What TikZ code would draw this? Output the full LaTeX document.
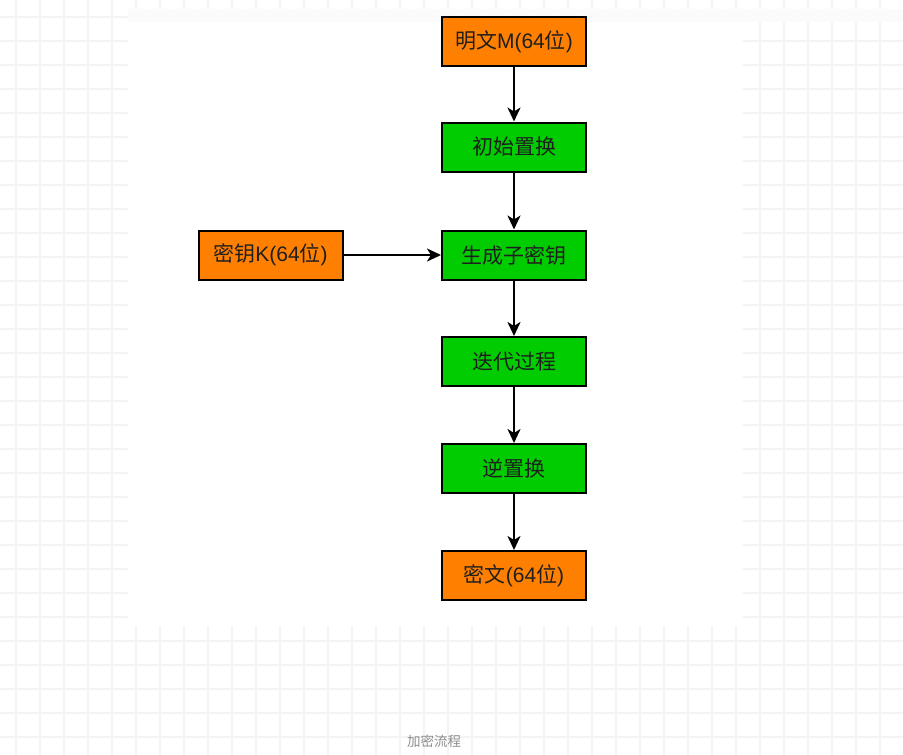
\documentclass[tikz,border=0pt]{standalone}
\usepackage{fontspec}
\setmainfont{Liberation Sans}
\newfontfamily\cjk{Noto Sans CJK SC}
\usetikzlibrary{arrows.meta}
\newcommand{\zh}[1]{{\cjk #1}}
\definecolor{zorange}{HTML}{FF8000}
\definecolor{zgreen}{HTML}{00CC00}
\definecolor{zgrid}{HTML}{F4F4F4}
\definecolor{zband}{HTML}{FBFBFB}
\definecolor{zfoot}{HTML}{8C8C8C}

\begin{document}
\begin{tikzpicture}[x=1pt, y=-1pt, zbox/.style={draw, line width=2pt, minimum width=144pt, minimum height=49pt, inner sep=0pt, font=\fontsize{21}{23}\selectfont, text=black!88}, zin/.style={zbox, fill=zorange}, zstep/.style={zbox, fill=zgreen}, zarr/.style={-{Stealth[length=14pt, width=13pt, inset=4pt]}, line width=2.2pt}]
\useasboundingbox (0,0) rectangle (903,755);
% fond quadrille
\foreach \x in {16,40,...,903}{\draw[zgrid, line width=1.5pt] (\x,0) -- (\x,755);}
\foreach \y in {17,41,...,755}{\draw[zgrid, line width=1.5pt] (0,\y) -- (903,\y);}
\fill[white] (128,22) rectangle (743,626);
\fill[zband] (128,9) rectangle (903,22);
% blocs
\node[zin] (plain) at (514,41.5) {\zh{明文}M(64\zh{位})};
\node[zstep] (initperm) at (514,147) {\zh{初始置换}};
\node[zstep] (subkey) at (514,255) {\zh{生成子密钥}};
\node[zin] (key) at (270.5,255) {\zh{密钥}K(64\zh{位})};
\node[zstep] (iter) at (514,361.5) {\zh{迭代过程}};
\node[zstep] (invperm) at (514,468.5) {\zh{逆置换}};
\node[zin] (cipher) at (514,575.5) {\zh{密文}(64\zh{位})};
\foreach \a/\b in {plain/initperm, initperm/subkey, subkey/iter, iter/invperm, invperm/cipher}{\draw[zarr] (\a.south) -- (\b.north);}
\draw[zarr] (key.east) -- (subkey.west);
\node[text=zfoot, font=\fontsize{13.5}{15}\selectfont\cjk] (caption) at (434,741) {加密流程};
\end{tikzpicture}
\end{document}
